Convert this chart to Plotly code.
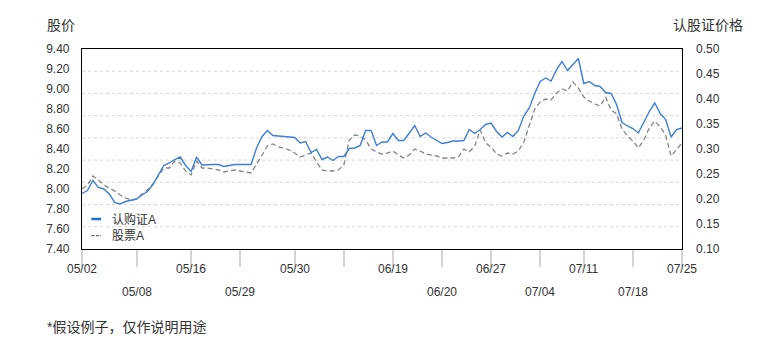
import plotly.graph_objects as go

# ---------------- data ----------------
warrant_a = [0.211, 0.217, 0.237, 0.223, 0.220, 0.210, 0.193, 0.190, 0.195, 0.197,
             0.200, 0.208, 0.215, 0.229, 0.248, 0.267, 0.272, 0.279, 0.284, 0.267,
             0.255, 0.284, 0.268, 0.269, 0.269, 0.269, 0.265, 0.267, 0.269, 0.269,
             0.269, 0.269, 0.302, 0.325, 0.337, 0.327, 0.326, 0.325, 0.324, 0.323,
             0.312, 0.315, 0.293, 0.299, 0.279, 0.284, 0.277, 0.285, 0.285, 0.301,
             0.302, 0.307, 0.337, 0.337, 0.307, 0.314, 0.314, 0.331, 0.317, 0.317,
             0.332, 0.347, 0.325, 0.332, 0.324, 0.317, 0.311, 0.313, 0.316, 0.316,
             0.317, 0.339, 0.331, 0.339, 0.349, 0.352, 0.335, 0.324, 0.333, 0.325,
             0.337, 0.366, 0.382, 0.411, 0.435, 0.442, 0.436, 0.459, 0.475, 0.457,
             0.469, 0.481, 0.431, 0.435, 0.427, 0.425, 0.413, 0.411, 0.389, 0.353,
             0.346, 0.341, 0.332, 0.353, 0.375, 0.392, 0.371, 0.359, 0.324, 0.339,
             0.342]

stock_a = [8.00, 8.04, 8.13, 8.09, 8.04, 8.01, 7.98, 7.94, 7.91, 7.89,
           7.90, 7.95, 7.99, 8.05, 8.13, 8.21, 8.21, 8.28, 8.26, 8.18,
           8.14, 8.28, 8.21, 8.21, 8.20, 8.19, 8.17, 8.18, 8.19, 8.18,
           8.17, 8.16, 8.25, 8.34, 8.43, 8.45, 8.42, 8.41, 8.39, 8.36,
           8.32, 8.34, 8.36, 8.27, 8.19, 8.18, 8.18, 8.19, 8.24, 8.49,
           8.54, 8.53, 8.49, 8.40, 8.37, 8.35, 8.36, 8.38, 8.34, 8.31,
           8.34, 8.40, 8.38, 8.35, 8.34, 8.33, 8.31, 8.31, 8.31, 8.32,
           8.40, 8.37, 8.43, 8.59, 8.46, 8.42, 8.35, 8.33, 8.36, 8.35,
           8.38, 8.47, 8.63, 8.80, 8.87, 8.90, 8.89, 8.96, 9.00, 8.98,
           9.07, 9.01, 8.92, 8.88, 8.85, 8.83, 8.92, 8.79, 8.75, 8.60,
           8.53, 8.48, 8.41, 8.49, 8.61, 8.68, 8.62, 8.54, 8.33, 8.39,
           8.46]

day_index = list(range(len(stock_a)))

tick_index = [0, 10, 20, 29, 39, 48, 57, 66, 75, 84, 92, 101, 110]
tick_labels = ["05/02", "05/08", "05/16", "05/29", "05/30", "", "06/19",
               "06/20", "06/27", "07/04", "07/11", "07/18", "07/25"]

series_names = ["认购证A", "股票A"]
left_title = "股价"
right_title = "认股证价格"
footnote = "*假设例子，仅作说明用途"

# ---------------- styles ----------------
BLUE = "#3d7fd9"
GRAY = "#858585"
TXT = "#333333"
FONT = "Liberation Sans, Arial, Noto Sans CJK SC, sans-serif"

fig = go.Figure()
fig.add_trace(go.Scatter(x=day_index, y=stock_a, mode="lines", name=series_names[1],
                         line=dict(color=GRAY, width=1.3, dash="5px,3px"),
                         yaxis="y", showlegend=False))
fig.add_trace(go.Scatter(x=day_index, y=warrant_a, mode="lines", name=series_names[0],
                         line=dict(color=BLUE, width=1.4),
                         yaxis="y2", showlegend=False))

shapes = []
# dotted gridlines (9 equal divisions)
for k in range(1, 9):
    shapes.append(dict(type="line", xref="paper", yref="paper", x0=0, x1=1,
                       y0=k / 9, y1=k / 9, layer="below",
                       line=dict(color="#d6d6d6", width=1, dash="dot")))
# legend symbols
shapes.append(dict(type="line", xref="paper", yref="paper", x0=0.0155, x1=0.032,
                   y0=0.15, y1=0.15, line=dict(color="#1f6fd0", width=2.5)))
shapes.append(dict(type="line", xref="paper", yref="paper", x0=0.0155, x1=0.032,
                   y0=0.067, y1=0.067, line=dict(color="#666666", width=1.3, dash="3px,1.5px")))

annotations = [
    dict(text=series_names[0], xref="paper", yref="paper", x=0.047, y=0.15,
         xanchor="left", yanchor="middle", showarrow=False, font=dict(size=12, color=TXT)),
    dict(text=series_names[1], xref="paper", yref="paper", x=0.047, y=0.067,
         xanchor="left", yanchor="middle", showarrow=False, font=dict(size=12, color=TXT)),
    dict(text=left_title, xref="paper", yref="paper", x=-0.062, y=1.12,
         xanchor="left", yanchor="middle", showarrow=False, font=dict(size=14, color=TXT)),
    dict(text=right_title, xref="paper", yref="paper", x=0.982, y=1.12,
         xanchor="left", yanchor="middle", showarrow=False, font=dict(size=14, color=TXT)),
    dict(text=footnote, xref="paper", yref="paper", x=-0.061, y=-0.39,
         xanchor="left", yanchor="middle", showarrow=False, font=dict(size=14, color=TXT)),
]
for n, (ti, tl) in enumerate(zip(tick_index, tick_labels)):
    annotations.append(dict(text=tl, xref="x", yref="paper", x=ti, y=0,
                            xanchor="center", yanchor="middle", showarrow=False,
                            yshift=-20 if n % 2 == 0 else -43,
                            font=dict(size=12, color=TXT)))

fig.update_layout(
    width=771, height=350,
    margin=dict(l=82, r=89, t=49, b=101, pad=0),
    paper_bgcolor="white", plot_bgcolor="white",
    font=dict(family=FONT, size=12, color=TXT),
    shapes=shapes, annotations=annotations,
    xaxis=dict(range=[0, len(day_index) - 1], tickmode="array", tickvals=tick_index,
               showticklabels=False, ticks="outside", ticklen=17, tickwidth=2,
               tickcolor="#d4d4d4", showgrid=False, zeroline=False,
               showline=True, linecolor="black", linewidth=1.2, mirror=True),
    yaxis=dict(range=[7.4, 9.4], dtick=0.2, tick0=7.4, tickformat=".2f",
               showgrid=False, zeroline=False, ticks="", ticklabelstandoff=9,
               showline=True, linecolor="black", linewidth=1.2, mirror=True,
               tickfont=dict(size=12, color=TXT)),
    yaxis2=dict(range=[0.1, 0.5], dtick=0.05, tick0=0.1, tickformat=".2f",
                overlaying="y", side="right", showgrid=False, zeroline=False,
                ticks="", ticklabelstandoff=13, tickfont=dict(size=12, color=TXT)),
)

fig.write_html("out.html")
